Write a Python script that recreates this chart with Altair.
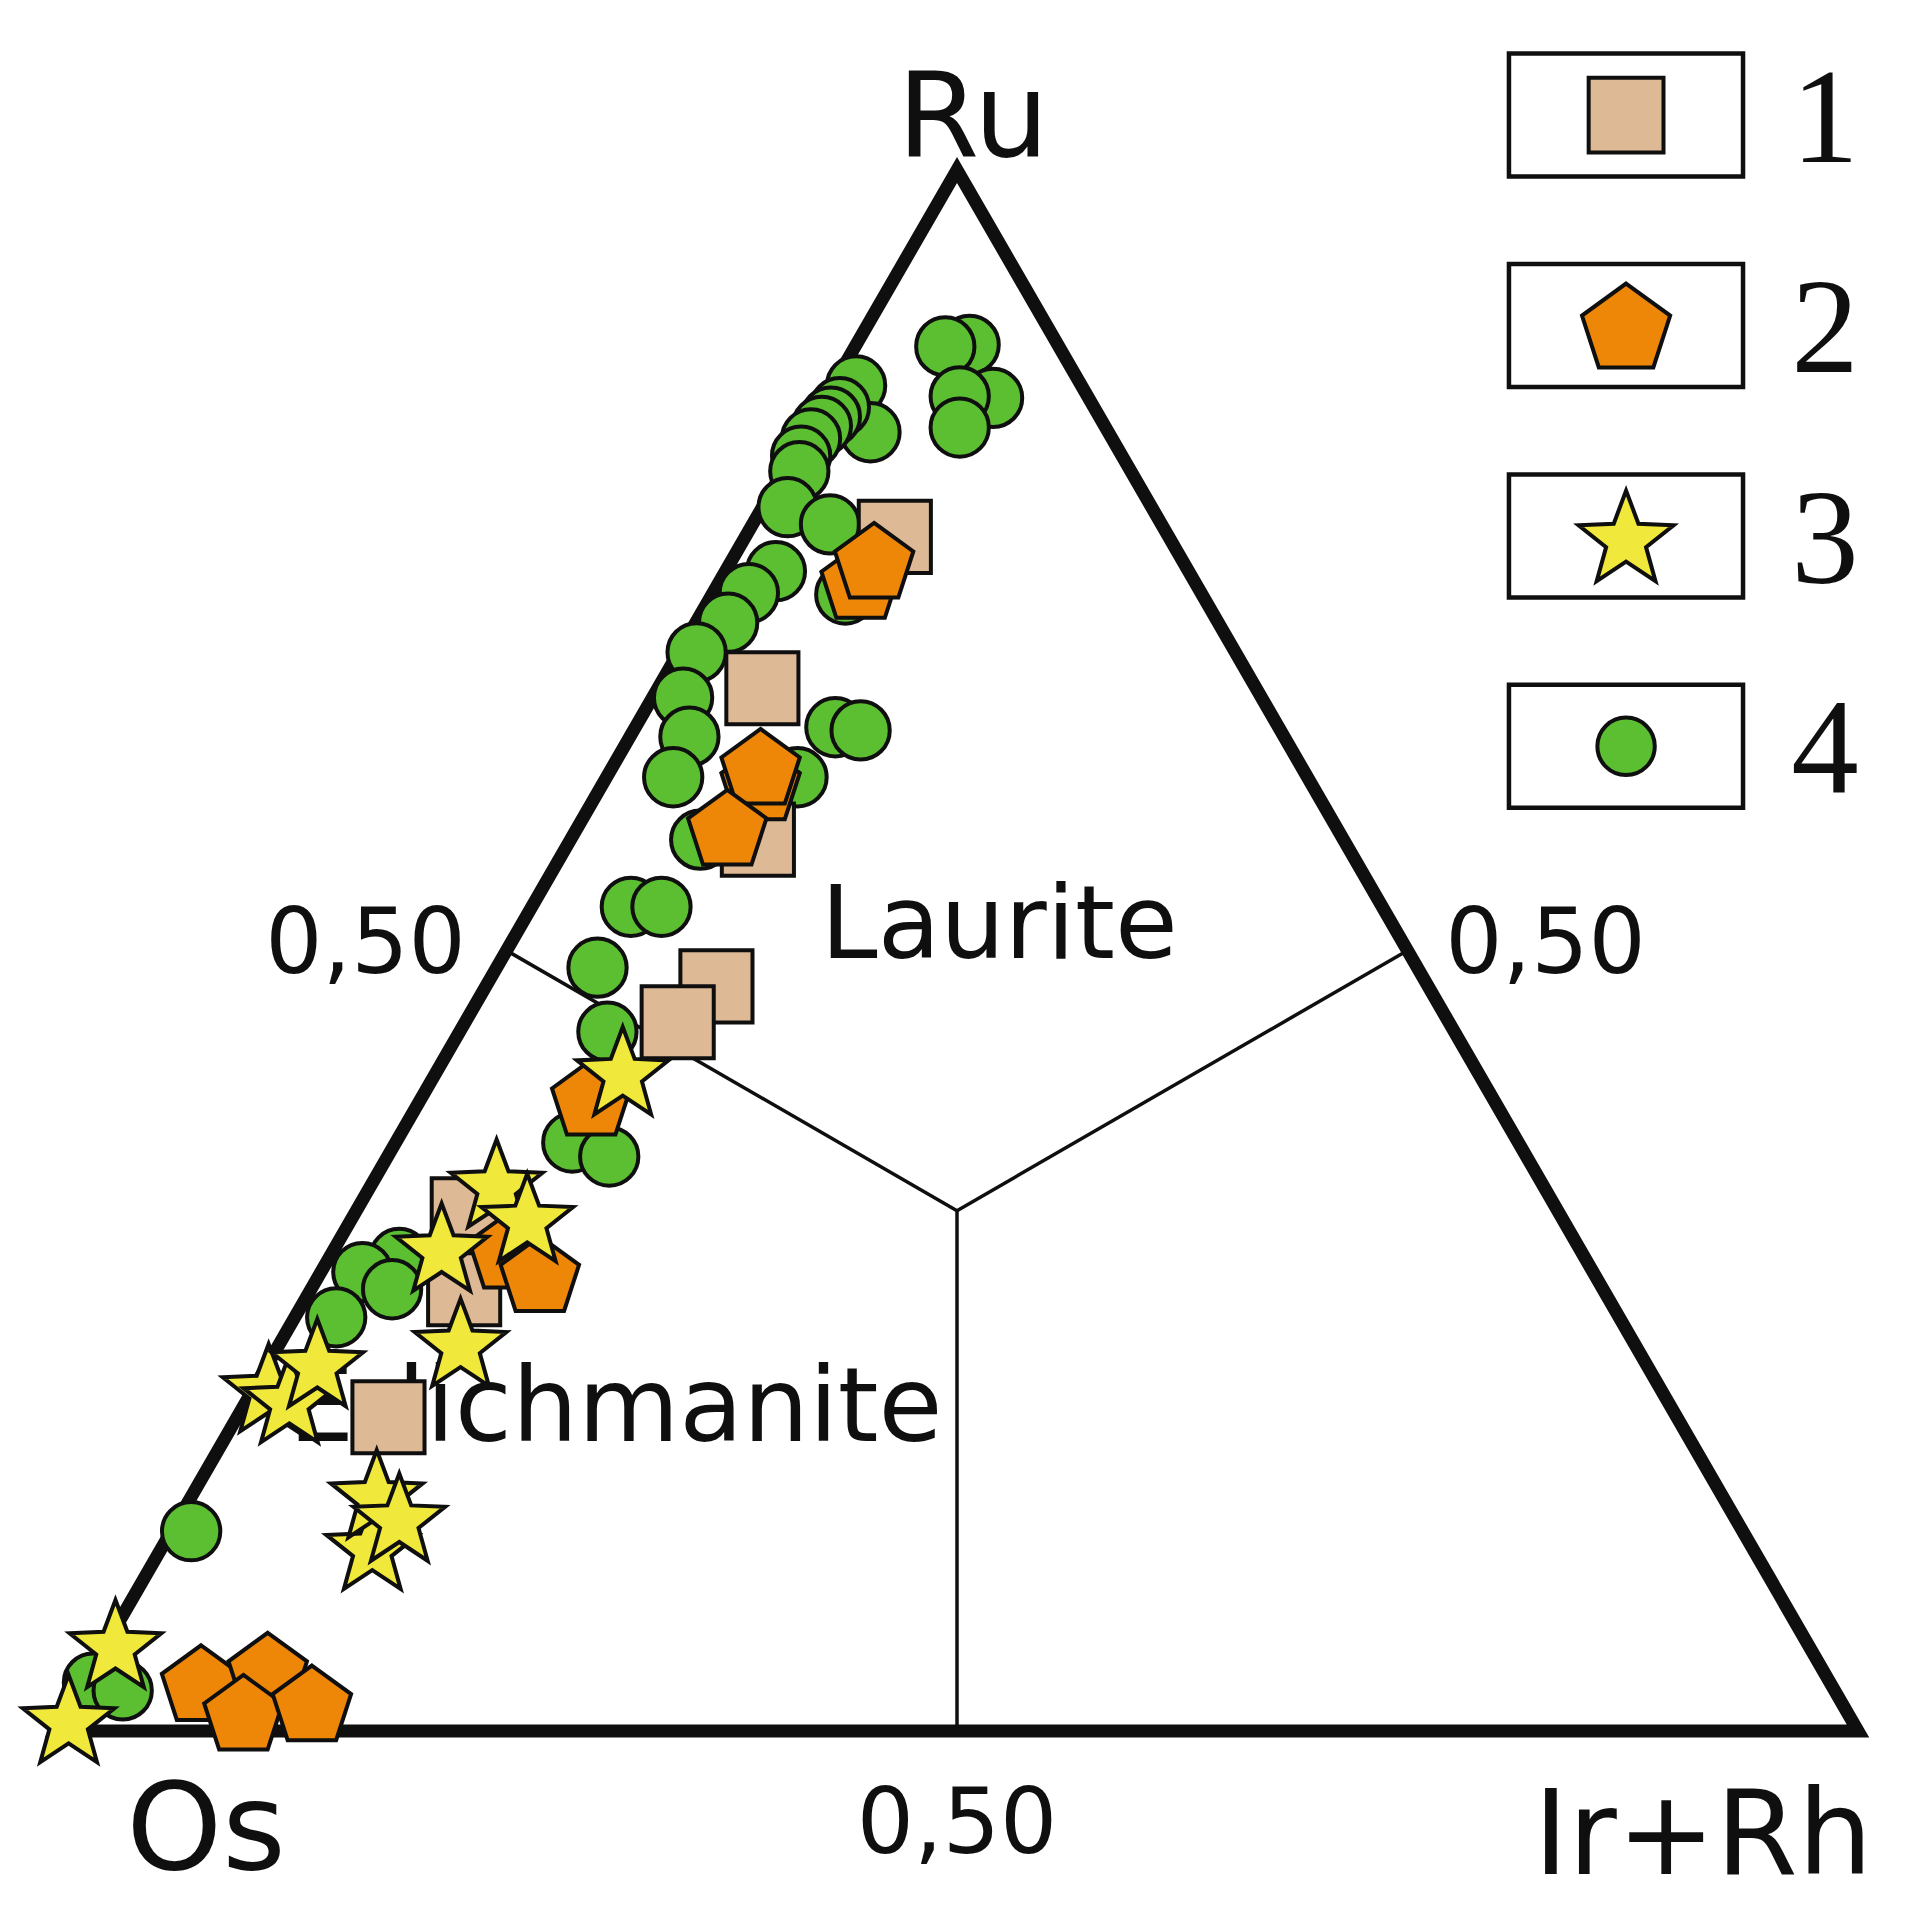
import altair as alt
import pandas as pd

# ---------------- data (compositions, %) ----------------
# 4 - green circles
circle_ru   = [88.8, 88.7, 85.4, 85.5, 83.5, 86.2, 83.2, 84.8, 84.2, 83.6, 82.8, 81.7, 80.7, 78.4, 77.3,
               74.3, 72.9, 72.8, 71.0, 69.1, 66.2, 63.7, 61.1, 57.1, 61.1, 64.3, 64.1, 52.8, 52.8, 48.9,
               44.8, 37.7, 36.8, 30.3, 29.4, 28.3, 26.5, 12.8, 3.1, 2.6]
circle_irrh = [6.3, 5.0, 9.3, 7.4, 8.4, 1.3, 3.6, 1.1, 0.9, 0.7, 0.5, 0.5, 0.9, 1.4, 4.3,
               2.8, 2.0, 7.4, 1.8, 1.0, 1.7, 3.3, 3.7, 7.2, 10.6, 11.1, 12.6, 5.5, 7.2, 5.6,
               8.2, 9.8, 12.3, 3.9, 2.3, 4.5, 2.3, 1.1, 0.5, 2.4]
circle_os   = [4.9, 6.3, 5.3, 7.1, 8.1, 12.5, 13.2, 14.1, 14.9, 15.7, 16.7, 17.8, 18.4, 20.2, 18.4,
               22.9, 25.1, 19.8, 27.2, 29.9, 32.1, 33.0, 35.2, 35.7, 28.3, 24.6, 23.3, 41.7, 40.0, 45.5,
               47.0, 52.5, 50.9, 65.8, 68.3, 67.2, 71.2, 86.1, 96.4, 95.0]

# 1 - squares
square_ru   = [76.5, 66.8, 57.1, 47.7, 45.4, 33.1, 28.3, 20.1]
square_irrh = [8.3, 5.8, 10.4, 12.8, 11.8, 6.3, 8.5, 8.4]
square_os   = [15.2, 27.4, 32.5, 39.5, 42.8, 60.6, 63.2, 71.5]

# 2 - pentagons
penta_ru    = [73.7, 75.0, 60.8, 61.8, 57.9, 40.6, 30.8, 29.3, 3.1, 3.9, 1.2, 1.8]
penta_irrh  = [7.8, 7.9, 8.7, 8.2, 8.3, 9.4, 9.7, 12.2, 6.5, 9.8, 9.8, 13.3]
penta_os    = [18.5, 17.1, 30.5, 30.0, 33.8, 50.0, 59.5, 58.5, 90.4, 86.3, 89.0, 84.9]

# 3 - stars
star_ru     = [42.3, 35.1, 32.9, 31.0, 24.9, 22.0, 21.3, 23.6, 11.9, 15.2, 13.7, 5.6, 0.8]
star_irrh   = [10.3, 6.9, 9.7, 5.9, 10.0, 0.8, 2.3, 2.7, 11.6, 10.2, 12.2, 0.5, 0.3]
star_os     = [47.4, 58.0, 57.4, 63.1, 65.1, 77.2, 76.4, 73.7, 76.5, 74.6, 74.1, 93.9, 98.9]

vertex_labels = ["Ru", "Os", "Ir+Rh"]
tick_label = "0,50"
field_labels = ["Laurite", "Erlichmanite"]
legend_labels = ["1", "2", "3", "4"]

# ---------------- styles ----------------
INK = "#0f0f0f"
FILL_SQUARE = "#DEB995"
FILL_PENTA = "#EE8708"
FILL_STAR = "#F0E83A"
FILL_CIRCLE = "#5CBF32"
PENTAGON = "M0,-0.905L0.951,-0.214L0.588,0.905L-0.588,0.905L-0.951,-0.214Z"
STAR = ("M0,-0.905L0.247,-0.244L0.951,-0.214L0.399,0.225L0.588,0.905L0,0.516"
        "L-0.588,0.905L-0.399,0.225L-0.951,-0.214L-0.247,-0.244Z")
SANS = "DejaVu Sans"
SERIF = "Liberation Serif"
MSTROKE = 4

W, H = 1880, 1900
X_MIN, X_MAX = -0.02664, 1.01665
Y_MIN, Y_MAX = -0.11339, 1.10378

X = alt.X("x:Q", scale=alt.Scale(domain=[X_MIN, X_MAX], nice=False, zero=False), axis=None)
Y = alt.Y("y:Q", scale=alt.Scale(domain=[Y_MIN, Y_MAX], nice=False, zero=False), axis=None)


def ternary(chart):
    return chart.transform_calculate(
        x="(datum.irrh + datum.ru / 2) / 100",
        y="datum.ru / 100",
    )


# triangle frame
tri_df = pd.DataFrame({"ru": [100, 0, 0], "irrh": [0, 0, 100], "os": [0, 100, 0], "k": [0, 1, 2]})
frame = ternary(alt.Chart(tri_df)).mark_line(
    interpolate="linear-closed", strokeWidth=13, color=INK, strokeJoin="miter", strokeMiterLimit=10
).encode(x=X, y=Y, order="k:O")

# field boundaries: edge midpoints to centroid
mid_df = pd.DataFrame({"ru": [50, 50, 0], "irrh": [0, 50, 50], "os": [50, 0, 50]})
c = 100 / 3
inner = alt.Chart(mid_df).transform_calculate(
    x="(datum.irrh + datum.ru / 2) / 100",
    y="datum.ru / 100",
    x2=f"({c} + {c} / 2) / 100",
    y2=f"{c} / 100",
).mark_rule(strokeWidth=3.5, color=INK).encode(x=X, y=Y, x2="x2:Q", y2="y2:Q")


def text_at(ru, irrh, label, size, dx=0, dy=0, align="center", font=SANS):
    df = pd.DataFrame({"ru": [ru], "irrh": [irrh], "label": [label]})
    return ternary(alt.Chart(df)).mark_text(
        font=font, fontSize=size, align=align, baseline="alphabetic", dx=dx, dy=dy, color=INK
    ).encode(x=X, y=Y, text="label:N")


texts = [
    text_at(100, 0, vertex_labels[0], 118, dx=16, dy=-14),
    text_at(0, 0, vertex_labels[1], 122, dx=150, dy=138),
    text_at(0, 100, vertex_labels[2], 118, dx=-155, dy=143),
    text_at(50, 0, tick_label, 90, dx=-141, dy=23),
    text_at(50, 50, tick_label, 90, dx=138, dy=23),
    text_at(0, 50, tick_label, 90, dx=0, dy=122),
    text_at(49.5, 27.6, field_labels[0], 102),
    text_at(18.6, 39.9, field_labels[1], 104, align="right"),
]


def markers(ru, irrh, os_, shape, fill, size):
    df = pd.DataFrame({"ru": ru, "irrh": irrh, "os": os_})
    return ternary(alt.Chart(df)).mark_point(
        shape=shape, filled=True, fill=fill, stroke=INK, strokeWidth=MSTROKE,
        size=size, opacity=1, fillOpacity=1, strokeOpacity=1
    ).encode(x=X, y=Y)


pts = [
    markers(circle_ru, circle_irrh, circle_os, "circle", FILL_CIRCLE, 3400),
    markers(square_ru, square_irrh, square_os, "square", FILL_SQUARE, 5200),
    markers(penta_ru, penta_irrh, penta_os, PENTAGON, FILL_PENTA, 6800),
    markers(star_ru, star_irrh, star_os, STAR, FILL_STAR, 9300),
]

# legend (drawn in plot coordinates, top right)
LEG_X0, LEG_X1, LEG_SYM_X, LEG_LAB_X = 0.8063, 0.9362, 0.8713, 0.9817
LEG_TOP, LEG_STEP, LEG_HALF = 1.0352, 0.1348, 0.0394
leg_df = pd.DataFrame({"name": legend_labels, "i": list(range(len(legend_labels)))})
leg_base = alt.Chart(leg_df).transform_calculate(
    cy=f"{LEG_TOP} - datum.i * {LEG_STEP}",
    y0=f"{LEG_TOP} - datum.i * {LEG_STEP} - {LEG_HALF}",
    y1=f"{LEG_TOP} - datum.i * {LEG_STEP} + {LEG_HALF}",
    x0=f"{LEG_X0}", x1=f"{LEG_X1}", sx=f"{LEG_SYM_X}", lx=f"{LEG_LAB_X}",
)
XL = lambda f: alt.X(f"{f}:Q", scale=alt.Scale(domain=[X_MIN, X_MAX], nice=False, zero=False), axis=None)
YL = lambda f: alt.Y(f"{f}:Q", scale=alt.Scale(domain=[Y_MIN, Y_MAX], nice=False, zero=False), axis=None)
leg_box = leg_base.mark_rect(fill="white", stroke=INK, strokeWidth=4.5).encode(
    x=XL("x0"), x2="x1:Q", y=YL("y0"), y2="y1:Q")

leg_styles = [("square", FILL_SQUARE, 5600), (PENTAGON, FILL_PENTA, 8600),
              (STAR, FILL_STAR, 10000), ("circle", FILL_CIRCLE, 3300)]
leg_syms = []
for name, (shape, fill, size) in zip(legend_labels, leg_styles):
    leg_syms.append(
        leg_base.transform_filter(alt.datum.name == name).mark_point(
            shape=shape, filled=True, fill=fill, stroke=INK, strokeWidth=MSTROKE,
            size=size, opacity=1, fillOpacity=1
        ).encode(x=XL("sx"), y=YL("cy"))
    )
leg_txt = leg_base.mark_text(font=SERIF, fontSize=135, align="center", baseline="alphabetic", dy=47, color=INK).encode(
    x=XL("lx"), y=YL("cy"), text="name:N")

chart = alt.layer(frame, inner, *texts, *pts, leg_box, *leg_syms, leg_txt).properties(
    width=W, height=H, padding=0, autosize=alt.AutoSizeParams(type="none"), background="white"
).configure_view(stroke=None)

chart.save("out.html", embed_options={"renderer": "svg", "actions": False})
